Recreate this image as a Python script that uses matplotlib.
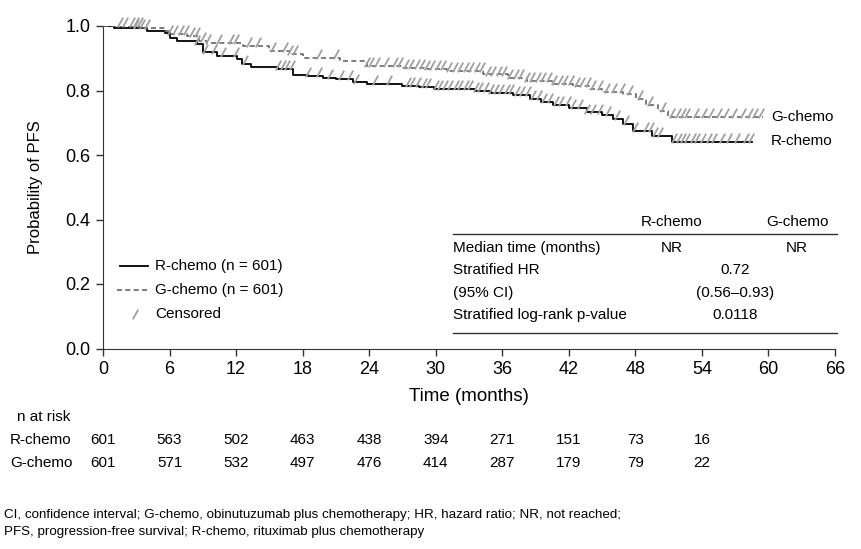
import numpy as np
import matplotlib
matplotlib.use("Agg")
import matplotlib.pyplot as plt
from matplotlib.path import Path
from matplotlib.lines import Line2D
import matplotlib.transforms as mtransforms

plt.rcParams['font.family'] = ['Liberation Sans', 'DejaVu Sans']

# Kaplan-Meier step data
r_time = [0, 1.0, 4.0, 5.6, 6.0, 6.7, 8.5, 9.0, 10.3, 12.1, 12.5, 13.3, 15.8, 17.1, 18.5, 19.8,
          21.0, 22.5, 23.8, 27.0, 28.5, 29.8, 33.5, 35.0, 37.0, 38.5, 39.5, 40.6, 42.0, 43.6,
          45.0, 46.0, 46.9, 47.8, 49.5, 51.3, 58.5]
r_surv = [1.0, 0.995, 0.985, 0.977, 0.962, 0.952, 0.944, 0.918, 0.907, 0.898, 0.882, 0.873, 0.866,
          0.849, 0.845, 0.840, 0.835, 0.825, 0.820, 0.815, 0.810, 0.805, 0.800, 0.793, 0.785,
          0.775, 0.765, 0.755, 0.745, 0.732, 0.725, 0.712, 0.695, 0.675, 0.660, 0.640, 0.640]

g_time = [0, 3.6, 5.6, 6.0, 7.6, 8.7, 9.4, 12.6, 15.0, 16.9, 18.0, 21.4, 23.8, 27.0, 28.9, 31.0,
          34.3, 36.5, 38.2, 40.5, 42.4, 43.9, 45.0, 46.9, 48.1, 49.0, 50.0, 50.9, 59.5]
g_surv = [1.0, 0.994, 0.985, 0.975, 0.969, 0.954, 0.948, 0.938, 0.923, 0.913, 0.900, 0.892, 0.876,
          0.870, 0.866, 0.860, 0.850, 0.840, 0.830, 0.820, 0.813, 0.805, 0.795, 0.790, 0.775,
          0.755, 0.737, 0.718, 0.718]

r_cens = [3.0, 3.5, 8.5, 9.2, 10.0, 10.8, 12.0, 12.8, 15.8, 16.2, 16.6, 17.0, 18.5, 19.5, 20.5,
          21.5, 22.3, 22.8, 24.5, 25.8, 27.5, 27.9, 28.4, 28.9, 29.3, 30.0, 30.4, 30.8, 31.3, 31.8,
          32.2, 32.7, 33.1, 33.6, 34.0, 34.5, 35.0, 35.4, 35.9, 36.4, 36.8, 37.3, 37.8, 38.3, 38.8,
          39.3, 39.8, 40.3, 40.8, 41.3, 41.9, 42.4, 43.0, 43.6, 44.2, 44.8, 45.5, 46.3, 47.2, 48.0,
          49.0, 49.4, 49.8, 50.2, 51.5, 51.9, 52.3, 52.7, 53.2, 53.6, 54.1, 54.6, 55.1, 55.8, 56.4,
          57.2, 58.0, 58.4]
g_cens = [1.5, 2.0, 2.6, 3.0, 3.3, 4.0, 6.0, 6.5, 7.0, 7.5, 8.0, 8.5, 9.0, 9.5, 10.5, 11.5, 12.0,
          13.2, 14.0, 15.3, 16.4, 16.9, 17.3, 19.5, 21.0, 23.8, 24.2, 24.7, 25.5, 26.3, 26.8, 27.3,
          27.8, 28.3, 28.8, 29.2, 29.7, 30.2, 30.7, 31.2, 31.7, 32.2, 32.7, 33.2, 33.7, 34.2, 34.7,
          35.2, 35.7, 36.2, 36.7, 37.2, 37.7, 38.2, 38.7, 39.2, 39.7, 40.2, 40.7, 41.2, 41.7, 42.2,
          42.7, 43.2, 43.7, 44.2, 44.8, 45.4, 46.1, 46.8, 47.5, 48.4, 49.3, 50.5, 51.3, 51.8, 52.3,
          52.7, 53.5, 54.2, 54.8, 55.5, 56.2, 56.9, 57.7, 58.3, 58.8, 59.3]

risk_months = [0, 6, 12, 18, 24, 30, 36, 42, 48, 54]
risk_r = [601, 563, 502, 463, 438, 394, 271, 151, 73, 16]
risk_g = [601, 571, 532, 497, 476, 414, 287, 179, 79, 22]

table_rows = ["Median time (months)", "Stratified HR", "(95% CI)", "Stratified log-rank p-value"]
table_vals = [("NR", "NR"), "0.72", "(0.56\u20130.93)", "0.0118"]

W, H = 861, 549
fig = plt.figure(figsize=(W / 100, H / 100), dpi=100)
ax = fig.add_axes([103 / W, 1 - 348.5 / H, (835 - 103) / W, (348.5 - 26) / H])


def fx(x):
    return x / W


def fy(y):
    return 1 - y / H


slash = Path([(-0.55, -1.0), (0.55, 1.0)], [Path.MOVETO, Path.LINETO])


def surv_at(times, surv, t):
    idx = np.searchsorted(times, t, side='right') - 1
    return np.asarray(surv)[idx]


cens_col = '#a0a0a0'
ax.step(r_time, r_surv, where='post', color='black', lw=1.3, zorder=3)
ax.step(g_time, g_surv, where='post', color='#666666', lw=1.2, ls=(0, (3, 2)), zorder=3)
ax.plot(r_cens, surv_at(r_time, r_surv, r_cens) + 0.012, ls='none', marker=slash,
        ms=7, mec=cens_col, mew=1.3, clip_on=False, zorder=4)
ax.plot(g_cens, surv_at(g_time, g_surv, g_cens) + 0.012, ls='none', marker=slash,
        ms=7, mec=cens_col, mew=1.3, clip_on=False, zorder=4)

ax.set_xlim(0, 66)
ax.set_ylim(0, 1.0)
ax.set_xticks(range(0, 67, 6))
ax.set_yticks([0, 0.2, 0.4, 0.6, 0.8, 1.0])
ax.set_yticklabels(['0.0', '0.2', '0.4', '0.6', '0.8', '1.0'])
ax.tick_params(labelsize=13, length=5, width=1, color='#333333', pad=4)
for s in ['top', 'right']:
    ax.spines[s].set_visible(False)
for s in ['left', 'bottom']:
    ax.spines[s].set_color('#333333')
ax.set_xlabel('Time (months)', fontsize=13.5, labelpad=7)
ax.set_ylabel('Probability of PFS', fontsize=12, labelpad=16)

# curve end labels
fig.text(fx(771), fy(117), 'G-chemo', fontsize=11, va='center', ha='left')
fig.text(fx(771), fy(141), 'R-chemo', fontsize=11, va='center', ha='left')

# legend
fig.add_artist(Line2D([fx(120), fx(148)], [fy(266), fy(266)], color='black', lw=1.3))
fig.add_artist(Line2D([fx(117), fx(148)], [fy(290), fy(290)], color='#666666', lw=1.2, ls=(0, (3, 2))))
fig.add_artist(Line2D([fx(135)], [fy(314)], ls='none', marker=slash, ms=7, mec=cens_col, mew=1.3))
for yy, lab in zip([266, 290, 314], ['R-chemo (n = 601)', 'G-chemo (n = 601)', 'Censored']):
    fig.text(fx(155), fy(yy), lab, fontsize=11, va='center', ha='left')

# stats table
fig.text(fx(672), fy(222), 'R-chemo', fontsize=11, va='center', ha='center')
fig.text(fx(797), fy(222), 'G-chemo', fontsize=11, va='center', ha='center')
fig.add_artist(Line2D([fx(453), fx(837)], [fy(234), fy(234)], color='#333333', lw=1))
fig.add_artist(Line2D([fx(453), fx(837)], [fy(333), fy(333)], color='#333333', lw=1))
row_y = [248, 270, 293, 315]
for yy, lab, val in zip(row_y, table_rows, table_vals):
    fig.text(fx(453), fy(yy), lab, fontsize=11, va='center', ha='left')
    if isinstance(val, tuple):
        fig.text(fx(672), fy(yy), val[0], fontsize=11, va='center', ha='center')
        fig.text(fx(797), fy(yy), val[1], fontsize=11, va='center', ha='center')
    else:
        fig.text(fx(735), fy(yy), val, fontsize=11, va='center', ha='center')

# number at risk
trans = mtransforms.blended_transform_factory(ax.transData, fig.transFigure)
fig.text(fx(17), fy(417), 'n at risk', fontsize=11, va='center', ha='left')
fig.text(fx(10), fy(440), 'R-chemo', fontsize=11, va='center', ha='left')
fig.text(fx(10), fy(463), 'G-chemo', fontsize=11, va='center', ha='left')
for m, a, b in zip(risk_months, risk_r, risk_g):
    ax.text(m, fy(440), str(a), fontsize=11, va='center', ha='center', transform=trans, clip_on=False)
    ax.text(m, fy(463), str(b), fontsize=11, va='center', ha='center', transform=trans, clip_on=False)

fig.text(fx(4), fy(515), 'CI, confidence interval; G-chemo, obinutuzumab plus chemotherapy; '
         'HR, hazard ratio; NR, not reached;', fontsize=9.6, va='center', ha='left')
fig.text(fx(4), fy(532), 'PFS, progression-free survival; R-chemo, rituximab plus chemotherapy',
         fontsize=9.6, va='center', ha='left')

fig.savefig('out.png', dpi=100)
